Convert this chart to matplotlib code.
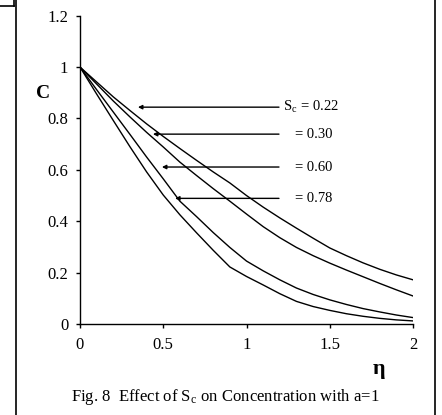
import matplotlib
matplotlib.use('Agg')
import matplotlib.pyplot as plt
from matplotlib.lines import Line2D

plt.rcParams['font.family'] = ['Liberation Serif', 'DejaVu Serif']
plt.rcParams['mathtext.fontset'] = 'stix'

eta = [0.0, 0.1, 0.2, 0.3, 0.4, 0.5, 0.6, 0.7, 0.8, 0.9, 1.0,
       1.1, 1.2, 1.3, 1.4, 1.5, 1.6, 1.7, 1.8, 1.9, 2.0]

c_sc022 = [1.0, 0.942, 0.884, 0.831, 0.779, 0.730, 0.683, 0.637, 0.592, 0.549, 0.500,
           0.455, 0.413, 0.373, 0.334, 0.296, 0.266, 0.238, 0.213, 0.191, 0.172]
c_sc030 = [1.0, 0.934, 0.868, 0.806, 0.746, 0.689, 0.630, 0.578, 0.527, 0.478, 0.428,
           0.379, 0.336, 0.298, 0.266, 0.237, 0.210, 0.184, 0.158, 0.133, 0.109]
c_sc060 = [1.0, 0.912, 0.825, 0.738, 0.650, 0.565, 0.478, 0.418, 0.356, 0.298, 0.245,
           0.207, 0.172, 0.140, 0.115, 0.094, 0.076, 0.060, 0.047, 0.035, 0.025]
c_sc078 = [1.0, 0.895, 0.792, 0.690, 0.592, 0.502, 0.425, 0.355, 0.287, 0.222, 0.185,
           0.152, 0.118, 0.088, 0.068, 0.053, 0.040, 0.030, 0.022, 0.016, 0.012]

curves = [c_sc022, c_sc030, c_sc060, c_sc078]
labels = ['S$_\\mathregular{c}$ = 0.22', '= 0.30', '= 0.60', '= 0.78']
# arrow y level, arrow head x, text start x (data units)
arrow_y = [0.844, 0.739, 0.611, 0.489]
arrow_head = [0.348, 0.438, 0.492, 0.571]
arrow_tail = 1.195
text_x = [1.219, 1.291, 1.291, 1.291]

x_ticks = [0, 0.5, 1, 1.5, 2]
x_ticklabels = ['0', '0.5', '1', '1.5', '2']
y_ticks = [0, 0.2, 0.4, 0.6, 0.8, 1.0, 1.2]
y_ticklabels = ['0', '0.2', '0.4', '0.6', '0.8', '1', '1.2']

W, H = 442, 415
fig = plt.figure(figsize=(W / 100, H / 100), dpi=100)
ax = fig.add_axes([80 / W, 1 - 324 / H, 333 / W, (324 - 15.7) / H])

for c in curves:
    ax.plot(eta, c, color='black', lw=1.0)

for lab, y, xh, xt in zip(labels, arrow_y, arrow_head, text_x):
    ax.annotate('', xy=(xh, y), xytext=(arrow_tail, y),
                arrowprops=dict(arrowstyle='-|>', color='black', lw=1.0,
                                mutation_scale=6, shrinkA=0, shrinkB=0))
    ax.text(xt, y, lab, ha='left', va='center', fontsize=10.5)

ax.set_xlim(0, 2)
ax.set_ylim(0, 1.2)
ax.set_xticks(x_ticks)
ax.set_xticklabels(x_ticklabels)
ax.set_yticks(y_ticks)
ax.set_yticklabels(y_ticklabels)
ax.tick_params(direction='out', length=3, width=1, labelsize=12)
ax.tick_params(axis='x', pad=6)
ax.tick_params(axis='y', pad=5.5)
ax.spines['top'].set_visible(False)
ax.spines['right'].set_visible(False)
ax.spines['left'].set_linewidth(1)
ax.spines['bottom'].set_linewidth(1)

fig.text(43 / W, 1 - 94 / H, 'C', fontsize=14, fontweight='bold', ha='center', va='center')
fig.text(379 / W, 1 - 369 / H, 'η', fontsize=16, fontweight='bold', ha='center', va='center')
fig.text(225 / W, 1 - 397 / H, 'Fig. 8  Effect of S$_\\mathregular{c}$ on Concentration with a=1',
         fontsize=12, ha='center', va='center')

# page frame
fig.add_artist(Line2D([16 / W, 16 / W], [0, 1], color='black', lw=1.2, transform=fig.transFigure))
fig.add_artist(Line2D([435 / W, 435 / W], [0, 1], color='black', lw=1.2, transform=fig.transFigure))
fig.add_artist(Line2D([0, 14 / W], [1 - 6 / H, 1 - 6 / H], color='black', lw=1.2, transform=fig.transFigure))
fig.add_artist(Line2D([14 / W, 14 / W], [1 - 6 / H, 1], color='black', lw=1.2, transform=fig.transFigure))

fig.savefig('out.png', dpi=100)
